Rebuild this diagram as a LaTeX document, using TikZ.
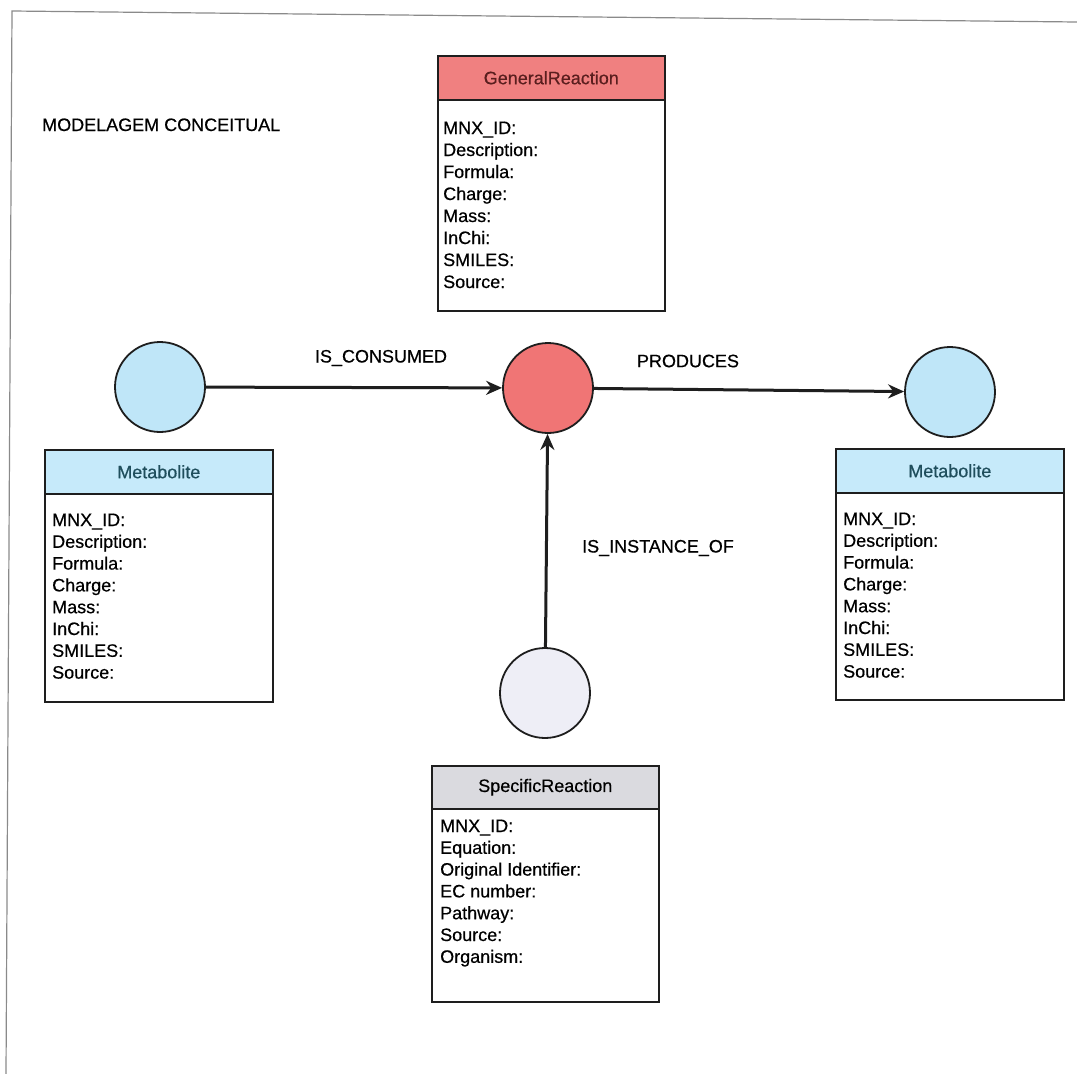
\documentclass[tikz,border=0pt]{standalone}
\usepackage{fontspec}
\setmainfont{Liberation Sans}[FakeBold=0.5]
\usetikzlibrary{arrows.meta}
\definecolor{redfill}{HTML}{F07575}
\definecolor{redhdr}{HTML}{F08080}
\definecolor{redtxt}{HTML}{5A1E1E}
\definecolor{bluefill}{HTML}{BFE6F8}
\definecolor{bluehdr}{HTML}{C6EAFA}
\definecolor{bluetxt}{HTML}{1F4E5C}
\definecolor{lavfill}{HTML}{EEEEF6}
\definecolor{grayhdr}{HTML}{DADADF}
\definecolor{framegray}{HTML}{8A8A8A}
\definecolor{ink}{HTML}{1E1E1E}
\tikzset{
  txt/.style={font=\fontsize{18}{22}\selectfont, inner sep=0pt},
  entity/.style={circle, draw=ink, line width=1.8pt, minimum size=90pt, inner sep=0pt},
  frame/.style={draw=ink, line width=1.6pt, fill=white, inner sep=0pt, anchor=north west},
  header/.style={draw=ink, line width=1.6pt, inner sep=0pt, anchor=north west, font=\fontsize{18}{22}\selectfont},
  attr/.style={txt, anchor=base west},
  rel/.style={line width=3pt, draw=ink, -{Stealth[length=16pt, width=14pt]}},
}
\begin{document}
\begin{tikzpicture}[x=1pt, y=-1pt]
\useasboundingbox (0,0) rectangle (1077,1074);
% page edges
\draw[framegray, line width=1.2pt] (6,1074) -- (12,11) -- (1077,22);

\node[txt, anchor=base west] (title) at (42,131) {MODELAGEM CONCEITUAL};

% entities
\node[entity, fill=bluefill] (mleft) at (160,387) {};
\node[entity, fill=redfill] (react) at (548,388) {};
\node[entity, fill=bluefill] (mright) at (950,392) {};
\node[entity, fill=lavfill] (spec) at (545,693) {};

% relations
\draw[rel] (mleft) -- (react);
\draw[rel] (react) -- (mright);
\draw[rel] (spec) -- (react);
\node[txt] (lcons) at (381,358) {IS\_CONSUMED};
\node[txt] (lprod) at (688,361) {PRODUCES};
\node[txt] (linst) at (658,548) {IS\_INSTANCE\_OF};

% GeneralReaction table
\node[frame, minimum width=227pt, minimum height=255pt] (grbox) at (437,55) {};
\node[header, fill=redhdr, text=redtxt, minimum width=227pt, minimum height=44pt] (grhead) at (437,55) {GeneralReaction};
\foreach \t [count=\i] in {MNX\_ID:, Description:, Formula:, Charge:, Mass:, InChi:, SMILES:, Source:}
  \node[attr] (gr-\i) at (443,{134+22*(\i-1)}) {\t};

% Metabolite table (left)
\node[frame, minimum width=228pt, minimum height=252pt] (mlbox) at (44,449) {};
\node[header, fill=bluehdr, text=bluetxt, minimum width=228pt, minimum height=44pt] (mlhead) at (44,449) {Metabolite};
\foreach \t [count=\i] in {MNX\_ID:, Description:, Formula:, Charge:, Mass:, InChi:, SMILES:, Source:}
  \node[attr] (ml-\i) at (52,{526+21.8*(\i-1)}) {\t};

% Metabolite table (right)
\node[frame, minimum width=228pt, minimum height=251pt] (mrbox) at (835,448) {};
\node[header, fill=bluehdr, text=bluetxt, minimum width=228pt, minimum height=44pt] (mrhead) at (835,448) {Metabolite};
\foreach \t [count=\i] in {MNX\_ID:, Description:, Formula:, Charge:, Mass:, InChi:, SMILES:, Source:}
  \node[attr] (mr-\i) at (843,{525+21.8*(\i-1)}) {\t};

% SpecificReaction table
\node[frame, minimum width=227pt, minimum height=236pt] (srbox) at (431,765) {};
\node[header, fill=grayhdr, minimum width=227pt, minimum height=43pt] (srhead) at (431,765) {SpecificReaction};
\foreach \t [count=\i] in {MNX\_ID:, Equation:, Original Identifier:, EC number:, Pathway:, Source:, Organism:}
  \node[attr] (sr-\i) at (440,{832+21.8*(\i-1)}) {\t};
\end{tikzpicture}
\end{document}
